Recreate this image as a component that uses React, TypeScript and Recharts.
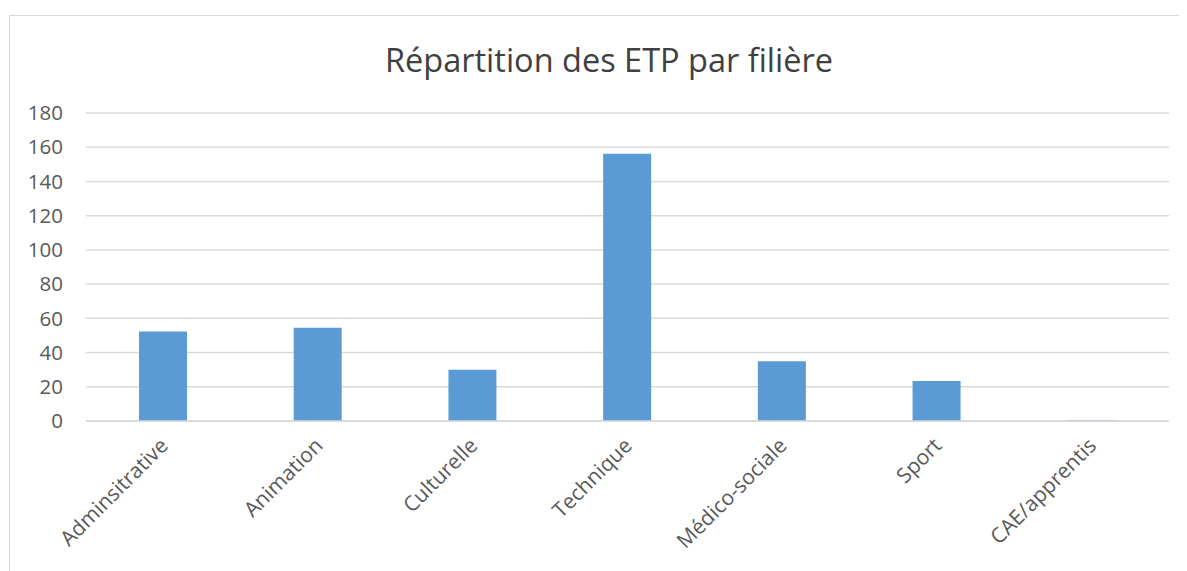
import { BarChart, Bar, XAxis, YAxis, CartesianGrid } from "recharts";

const categories = [
  "Adminsitrative",
  "Animation",
  "Culturelle",
  "Technique",
  "Médico-sociale",
  "Sport",
  "CAE/apprentis",
];
const etpValues = [52.3, 54.5, 30.0, 156.2, 34.9, 23.4, 0.5];
const yTicks = [0, 20, 40, 60, 80, 100, 120, 140, 160, 180];

const data = categories.map((name, i) => ({ name, value: etpValues[i] }));

const FONT = "'Open Sans', 'Noto Sans', sans-serif";

function AngledTick(props: any) {
  const { x, y, payload } = props;
  return (
    <g transform={`translate(${x + 1},${y + 13})`}>
      <text
        x={0}
        y={0}
        dy={7}
        textAnchor="end"
        transform="rotate(-45)"
        fill="#595959"
        fontSize={21}
        fontFamily={FONT}
      >
        {payload.value}
      </text>
    </g>
  );
}

export default function App() {
  return (
    <div
      style={{
        position: "relative",
        marginLeft: 1,
        marginTop: 7,
        width: 1190,
        height: 570,
        border: "1px solid #d9d9d9",
        background: "#fff",
        fontFamily: FONT,
      }}
    >
      <div
        style={{
          position: "absolute",
          top: 21,
          left: 0,
          width: 1198,
          textAlign: "center",
          fontSize: 32.5,
          color: "#404040",
        }}
      >
        Répartition des ETP par filière
      </div>
      <BarChart
        width={1178}
        height={555}
        data={data}
        margin={{ top: 97, right: 19, left: 0, bottom: 0 }}
        style={{ position: "absolute", top: 0, left: 0 }}
      >
        <CartesianGrid vertical={false} stroke="#d9d9d9" strokeWidth={1.5} />
        <YAxis
          domain={[0, 180]}
          ticks={yTicks}
          width={76}
          axisLine={false}
          tickLine={false}
          tickMargin={17}
          tick={{ fill: "#595959", fontSize: 20.5, fontFamily: FONT }}
        />
        <XAxis
          dataKey="name"
          height={150}
          interval={0}
          axisLine={{ stroke: "#d9d9d9", strokeWidth: 1.5 }}
          tickLine={false}
          tick={<AngledTick />}
        />
        <Bar
          dataKey="value"
          fill="#5b9bd5"
          barSize={48}
          isAnimationActive={false}
        />
      </BarChart>
    </div>
  );
}
